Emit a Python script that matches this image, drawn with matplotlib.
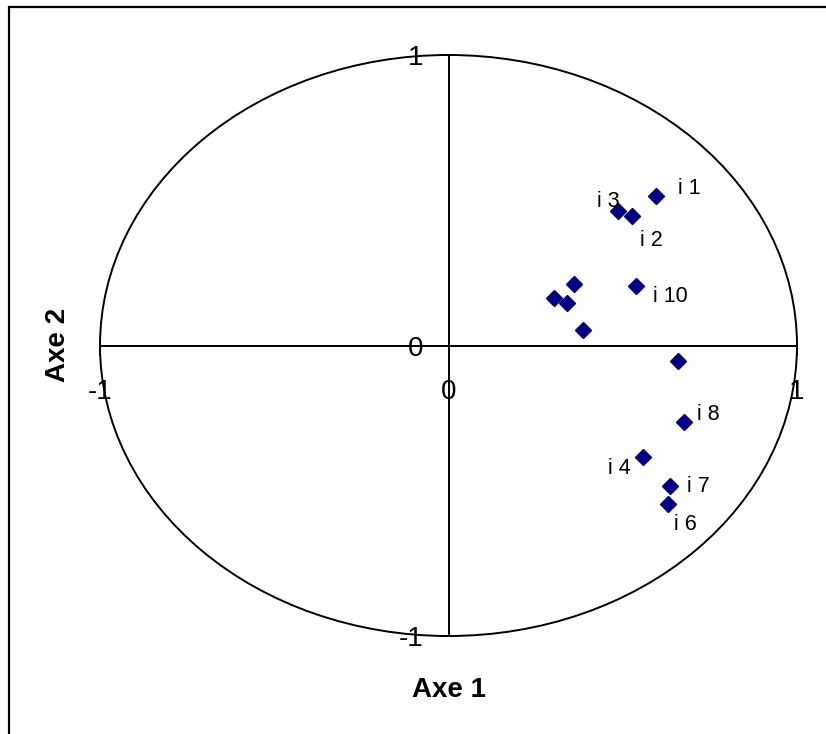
import matplotlib
matplotlib.use("Agg")
import matplotlib.pyplot as plt
from matplotlib.patches import Ellipse, Rectangle

plt.rcParams['font.family'] = ['Liberation Sans', 'DejaVu Sans']

# Data
names = ["i1", "i2", "i3", "i4", "i5", "i6", "i7", "i8", "i9", "i10", "i11", "i12", "i13"]
axe1 = [0.596, 0.526, 0.486, 0.558, 0.359, 0.629, 0.636, 0.677, 0.304, 0.537, 0.340, 0.387, 0.658]
axe2 = [0.516, 0.446, 0.464, -0.383, 0.211, -0.546, -0.484, -0.265, 0.162, 0.205, 0.147, 0.052, -0.052]
shown_labels = ["i 1", "i 2", "i 3", "i 4", "", "i 6", "i 7", "i 8", "", "i 10", "", "", ""]
label_offsets_px = [(33, 7), (20, -25), (-10, 9), (-24, -12), (0, 0), (18, -20), (28, 0),
                    (24, 8), (0, 0), (35, -11), (0, 0), (0, 0), (0, 0)]
xticks = [-1, 0, 1]
yticks = [-1, 0, 1]
xtick_labels = ["-1", "0", "1"]
ytick_labels = ["-1", "0", "1"]

W, H = 826, 734
fig = plt.figure(figsize=(W / 100, H / 100), dpi=100)
fig.patch.set_facecolor("white")

# outer frame (only top/left visible in the crop)
fig.add_artist(Rectangle((9 / W, -0.05), 1.2, 1 - 7 / H + 0.05, transform=fig.transFigure,
                         fill=False, edgecolor="black", linewidth=1.6))

left, right, top, bottom = 100, 797, 55, 636
ax = fig.add_axes([left / W, (H - bottom) / H, (right - left) / W, (bottom - top) / H])
ax.set_xlim(-1, 1)
ax.set_ylim(-1, 1)
ax.patch.set_alpha(0)

for s in ["top", "right"]:
    ax.spines[s].set_visible(False)
ax.spines["left"].set_position(("data", 0))
ax.spines["bottom"].set_position(("data", 0))
for s in ["left", "bottom"]:
    ax.spines[s].set_linewidth(1.4)

ax.set_xticks(xticks)
ax.set_xticklabels(xtick_labels)
ax.set_yticks(yticks)
ax.set_yticklabels(ytick_labels)
ax.tick_params(axis="x", direction="out", length=7, width=1.4, pad=17, labelsize=20)
ax.tick_params(axis="y", direction="out", length=7, width=1.4, pad=11, labelsize=20)

ax.add_patch(Ellipse((0, 0), 2, 2, fill=False, edgecolor="black", linewidth=1.4, clip_on=False))

ax.plot(axe1, axe2, linestyle="none", marker="D", markersize=8.5, color="#000080", clip_on=False)

for x, y, lab, (dx, dy) in zip(axe1, axe2, shown_labels, label_offsets_px):
    if lab:
        ax.annotate(lab, (x, y), xytext=(dx * 0.72, dy * 0.72), textcoords="offset points",
                    ha="center", va="center", fontsize=15.5)

fig.text(449 / W, 1 - 690 / H, "Axe 1", ha="center", va="center", fontsize=20, fontweight="bold")
fig.text(58 / W, 1 - 345 / H, "Axe 2", ha="center", va="center", fontsize=20, fontweight="bold",
         rotation=90)

fig.savefig("out.png", dpi=100)
